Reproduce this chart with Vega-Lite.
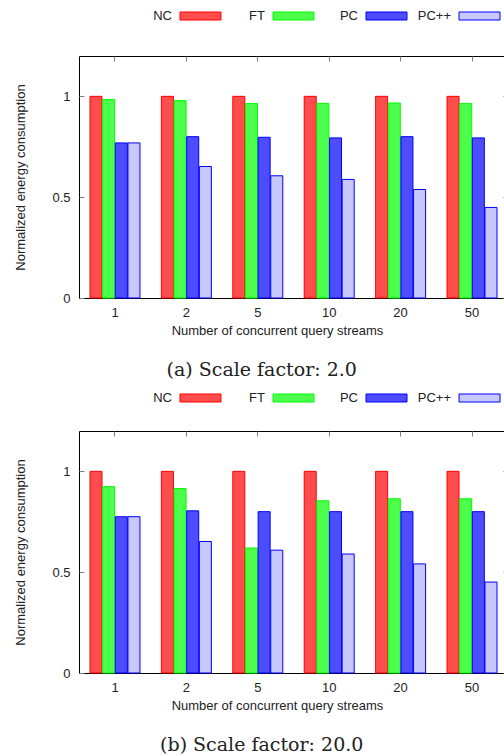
{
  "$schema": "https://vega.github.io/schema/vega-lite/v6.json",
  "background": "white",
  "padding": {"top": 10, "left": 14, "right": 0, "bottom": 0},
  "config": {
    "font": "Liberation Sans",
    "view": {"stroke": "black", "strokeWidth": 1},
    "axis": {"labelFont": "Liberation Sans", "labelFontSize": 13, "labelColor": "#222", "titleFont": "Liberation Sans", "titleFontSize": 13, "titleFontWeight": "normal", "titleColor": "#222", "grid": false, "domain": false, "tickColor": "#808080", "tickWidth": 1},
    "title": {"font": "DejaVu Serif", "fontSize": 19, "fontWeight": "normal", "color": "#222"}
  },
  "datasets": {
    "series": [{"series": "NC"}, {"series": "FT"}, {"series": "PC"}, {"series": "PC++"}],
    "a": [
      {"streams": "1", "series": "NC", "value": 1.0}, {"streams": "1", "series": "FT", "value": 0.984}, {"streams": "1", "series": "PC", "value": 0.769}, {"streams": "1", "series": "PC++", "value": 0.769},
      {"streams": "2", "series": "NC", "value": 1.0}, {"streams": "2", "series": "FT", "value": 0.979}, {"streams": "2", "series": "PC", "value": 0.8}, {"streams": "2", "series": "PC++", "value": 0.652},
      {"streams": "5", "series": "NC", "value": 1.0}, {"streams": "5", "series": "FT", "value": 0.964}, {"streams": "5", "series": "PC", "value": 0.797}, {"streams": "5", "series": "PC++", "value": 0.606},
      {"streams": "10", "series": "NC", "value": 1.0}, {"streams": "10", "series": "FT", "value": 0.965}, {"streams": "10", "series": "PC", "value": 0.794}, {"streams": "10", "series": "PC++", "value": 0.588},
      {"streams": "20", "series": "NC", "value": 1.0}, {"streams": "20", "series": "FT", "value": 0.967}, {"streams": "20", "series": "PC", "value": 0.8}, {"streams": "20", "series": "PC++", "value": 0.538},
      {"streams": "50", "series": "NC", "value": 1.0}, {"streams": "50", "series": "FT", "value": 0.964}, {"streams": "50", "series": "PC", "value": 0.794}, {"streams": "50", "series": "PC++", "value": 0.449}
    ],
    "b": [
      {"streams": "1", "series": "NC", "value": 1.0}, {"streams": "1", "series": "FT", "value": 0.924}, {"streams": "1", "series": "PC", "value": 0.775}, {"streams": "1", "series": "PC++", "value": 0.775},
      {"streams": "2", "series": "NC", "value": 1.0}, {"streams": "2", "series": "FT", "value": 0.915}, {"streams": "2", "series": "PC", "value": 0.804}, {"streams": "2", "series": "PC++", "value": 0.652},
      {"streams": "5", "series": "NC", "value": 1.0}, {"streams": "5", "series": "FT", "value": 0.62}, {"streams": "5", "series": "PC", "value": 0.8}, {"streams": "5", "series": "PC++", "value": 0.609},
      {"streams": "10", "series": "NC", "value": 1.0}, {"streams": "10", "series": "FT", "value": 0.854}, {"streams": "10", "series": "PC", "value": 0.8}, {"streams": "10", "series": "PC++", "value": 0.59},
      {"streams": "20", "series": "NC", "value": 1.0}, {"streams": "20", "series": "FT", "value": 0.864}, {"streams": "20", "series": "PC", "value": 0.8}, {"streams": "20", "series": "PC++", "value": 0.541},
      {"streams": "50", "series": "NC", "value": 1.0}, {"streams": "50", "series": "FT", "value": 0.864}, {"streams": "50", "series": "PC", "value": 0.8}, {"streams": "50", "series": "PC++", "value": 0.451}
    ]
  },
  "spacing": 11,
  "resolve": {"scale": {"x": "independent", "y": "independent"}},
  "vconcat": [
    {
      "spacing": 36,
      "bounds": "flush",
      "resolve": {"scale": {"x": "independent", "y": "independent"}},
      "vconcat": [
        {
          "data": {"name": "series"},
          "width": 522,
          "height": 8,
          "view": {"stroke": null},
          "layer": [
            {
              "mark": {"type": "bar", "width": 41, "strokeWidth": 1},
              "encoding": {
                "x": {"field": "series", "type": "nominal", "sort": ["NC", "FT", "PC", "PC++"], "scale": {"paddingInner": 0, "paddingOuter": 0.806}, "axis": null},
                "fill": {"field": "series", "type": "nominal", "scale": {"domain": ["NC", "FT", "PC", "PC++"], "range": ["#ff4d4d", "#4dff4d", "#4d4dff", "#c8c8ff"]}, "legend": null},
                "stroke": {"field": "series", "type": "nominal", "scale": {"domain": ["NC", "FT", "PC", "PC++"], "range": ["#ff0000", "#00ff00", "#0000ff", "#0000ff"]}, "legend": null}
              }
            },
            {
              "mark": {"type": "text", "align": "right", "baseline": "middle", "dx": -28.5, "fontSize": 13, "font": "Liberation Sans", "color": "#222"},
              "encoding": {
                "x": {"field": "series", "type": "nominal", "sort": ["NC", "FT", "PC", "PC++"]},
                "text": {"field": "series", "type": "nominal"}
              }
            }
          ]
        },
        {
          "data": {"name": "a"},
          "width": 429,
          "height": 242,
          "title": {"text": "(a) Scale factor: 2.0", "orient": "bottom", "frame": "bounds", "anchor": "middle", "offset": 24},
          "resolve": {"axis": {"x": "independent", "y": "independent"}},
          "layer": [
            {
              "mark": {"type": "bar", "strokeWidth": 1},
              "encoding": {
                "x": {"field": "streams", "type": "nominal", "sort": ["1", "2", "5", "10", "20", "50"], "scale": {"paddingInner": 0.3, "paddingOuter": 0.154}, "axis": {"title": "Number of concurrent query streams", "labelAngle": 0, "ticks": false, "labelPadding": 8, "titlePadding": 5, "titleX": 198}},
                "xOffset": {"field": "series", "type": "nominal", "sort": ["NC", "FT", "PC", "PC++"], "scale": {"paddingInner": 0.05}},
                "y": {"field": "value", "type": "quantitative", "scale": {"domain": [0, 1.2], "nice": false}, "axis": {"title": "Normalized energy consumption", "values": [0, 0.5, 1], "format": "~g", "tickSize": -5, "labelPadding": 14, "titlePadding": 24}},
                "fill": {"field": "series", "type": "nominal", "scale": {"domain": ["NC", "FT", "PC", "PC++"], "range": ["#ff4d4d", "#4dff4d", "#4d4dff", "#c8c8ff"]}, "legend": null},
                "stroke": {"field": "series", "type": "nominal", "scale": {"domain": ["NC", "FT", "PC", "PC++"], "range": ["#ff0000", "#00ff00", "#0000ff", "#0000ff"]}, "legend": null}
              }
            },
            {
              "mark": {"type": "bar", "opacity": 0},
              "encoding": {
                "x": {"field": "streams", "type": "nominal", "sort": ["1", "2", "5", "10", "20", "50"], "axis": {"orient": "top", "title": null, "labels": false, "tickSize": -5}},
                "xOffset": {"field": "series", "type": "nominal", "sort": ["NC", "FT", "PC", "PC++"]},
                "y": {"field": "value", "type": "quantitative", "axis": {"orient": "right", "title": null, "labels": false, "values": [0, 0.5, 1], "tickSize": -5}}
              }
            }
          ]
        }
      ]
    },
    {
      "spacing": 29,
      "bounds": "flush",
      "resolve": {"scale": {"x": "independent", "y": "independent"}},
      "vconcat": [
        {
          "data": {"name": "series"},
          "width": 522,
          "height": 8,
          "view": {"stroke": null},
          "layer": [
            {
              "mark": {"type": "bar", "width": 41, "strokeWidth": 1},
              "encoding": {
                "x": {"field": "series", "type": "nominal", "sort": ["NC", "FT", "PC", "PC++"], "scale": {"paddingInner": 0, "paddingOuter": 0.806}, "axis": null},
                "fill": {"field": "series", "type": "nominal", "scale": {"domain": ["NC", "FT", "PC", "PC++"], "range": ["#ff4d4d", "#4dff4d", "#4d4dff", "#c8c8ff"]}, "legend": null},
                "stroke": {"field": "series", "type": "nominal", "scale": {"domain": ["NC", "FT", "PC", "PC++"], "range": ["#ff0000", "#00ff00", "#0000ff", "#0000ff"]}, "legend": null}
              }
            },
            {
              "mark": {"type": "text", "align": "right", "baseline": "middle", "dx": -28.5, "fontSize": 13, "font": "Liberation Sans", "color": "#222"},
              "encoding": {
                "x": {"field": "series", "type": "nominal", "sort": ["NC", "FT", "PC", "PC++"]},
                "text": {"field": "series", "type": "nominal"}
              }
            }
          ]
        },
        {
          "data": {"name": "b"},
          "width": 429,
          "height": 242,
          "title": {"text": "(b) Scale factor: 20.0", "orient": "bottom", "frame": "bounds", "anchor": "middle", "offset": 24},
          "resolve": {"axis": {"x": "independent", "y": "independent"}},
          "layer": [
            {
              "mark": {"type": "bar", "strokeWidth": 1},
              "encoding": {
                "x": {"field": "streams", "type": "nominal", "sort": ["1", "2", "5", "10", "20", "50"], "scale": {"paddingInner": 0.3, "paddingOuter": 0.154}, "axis": {"title": "Number of concurrent query streams", "labelAngle": 0, "ticks": false, "labelPadding": 8, "titlePadding": 5, "titleX": 198}},
                "xOffset": {"field": "series", "type": "nominal", "sort": ["NC", "FT", "PC", "PC++"], "scale": {"paddingInner": 0.05}},
                "y": {"field": "value", "type": "quantitative", "scale": {"domain": [0, 1.2], "nice": false}, "axis": {"title": "Normalized energy consumption", "values": [0, 0.5, 1], "format": "~g", "tickSize": -5, "labelPadding": 14, "titlePadding": 24}},
                "fill": {"field": "series", "type": "nominal", "scale": {"domain": ["NC", "FT", "PC", "PC++"], "range": ["#ff4d4d", "#4dff4d", "#4d4dff", "#c8c8ff"]}, "legend": null},
                "stroke": {"field": "series", "type": "nominal", "scale": {"domain": ["NC", "FT", "PC", "PC++"], "range": ["#ff0000", "#00ff00", "#0000ff", "#0000ff"]}, "legend": null}
              }
            },
            {
              "mark": {"type": "bar", "opacity": 0},
              "encoding": {
                "x": {"field": "streams", "type": "nominal", "sort": ["1", "2", "5", "10", "20", "50"], "axis": {"orient": "top", "title": null, "labels": false, "tickSize": -5}},
                "xOffset": {"field": "series", "type": "nominal", "sort": ["NC", "FT", "PC", "PC++"]},
                "y": {"field": "value", "type": "quantitative", "axis": {"orient": "right", "title": null, "labels": false, "values": [0, 0.5, 1], "tickSize": -5}}
              }
            }
          ]
        }
      ]
    }
  ]
}
